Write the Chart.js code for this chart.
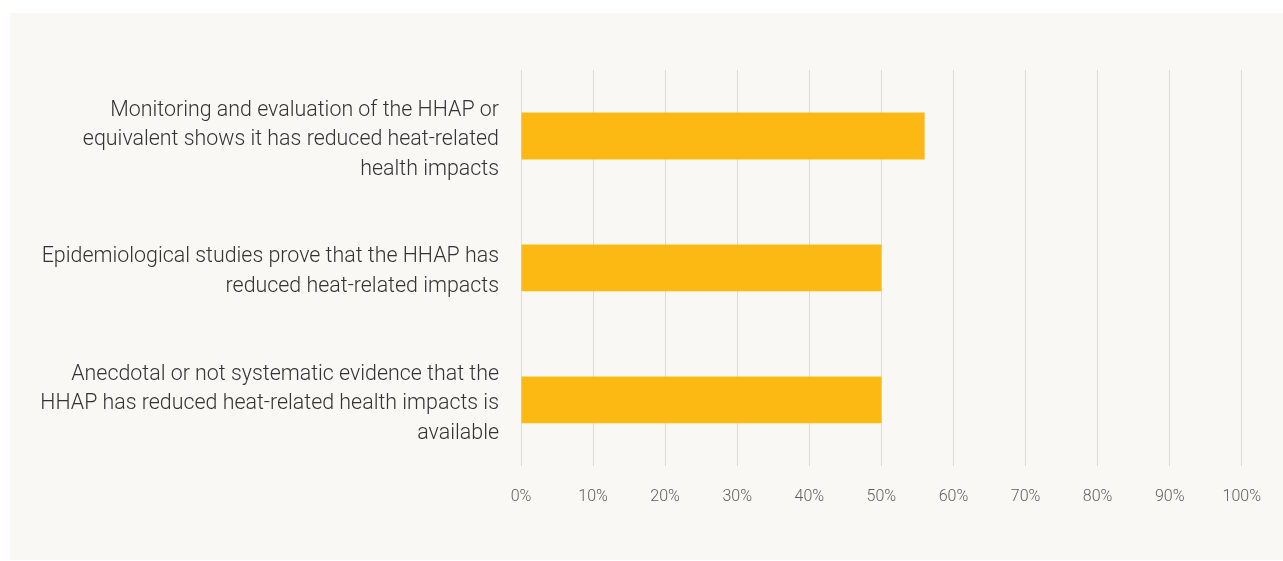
<!DOCTYPE html>
<html>
<head>
<meta charset="utf-8">
<script src="https://cdn.jsdelivr.net/npm/chart.js@4"></script>
<style>
  html, body { margin: 0; padding: 0; background: #ffffff; }
  #panel {
    position: absolute; left: 10px; top: 13px;
    width: 1273px; height: 547px; background: #f9f8f4;
  }
  #chart { display: block; }
</style>
</head>
<body>
<div id="panel"><canvas id="chart" width="1273" height="547"></canvas></div>
<script>
  // Survey answers (labels split into lines as in the figure)
  var categories = [
    ['Monitoring and evaluation of the HHAP or', 'equivalent shows it has reduced heat-related', 'health impacts'],
    ['Epidemiological studies prove that the HHAP has', 'reduced heat-related impacts'],
    ['Anecdotal or not systematic evidence that the', 'HHAP has reduced heat-related health impacts is', 'available']
  ];
  var shares = [56, 50, 50];
  var xTicks = [0, 10, 20, 30, 40, 50, 60, 70, 80, 90, 100];

  var chart = new Chart(document.getElementById('chart'), {
    type: 'bar',
    data: {
      labels: categories,
      datasets: [{
        label: 'Share',
        data: shares,
        backgroundColor: '#fcb913',
        barPercentage: 0.355,
        categoryPercentage: 1
      }]
    },
    options: {
      indexAxis: 'y',
      responsive: false,
      animation: false,
      layout: { padding: { top: 57, bottom: 31, right: 40, left: 0 } },
      plugins: { legend: { display: false }, tooltip: { enabled: false } },
      scales: {
        x: {
          min: 0,
          max: 100,
          afterBuildTicks: function(scale) {
            scale.ticks = xTicks.map(function(v) { return { value: v }; });
          },
          border: { display: false },
          grid: { color: '#dcdbd7', lineWidth: 1, drawTicks: false },
          ticks: {
            padding: 22,
            color: '#5e5e5e',
            font: { family: 'Roboto', size: 16, weight: 300 },
            callback: function(v) { return v + '%'; }
          }
        },
        y: {
          // fixed axis width so the plot starts where the reference does
          afterFit: function(scale) {
            scale.width = 511;
            scale.paddingTop = 0;
            scale.paddingBottom = 0;
          },
          border: { display: false },
          grid: { display: false, drawTicks: false },
          ticks: {
            padding: 22,
            labelOffset: 4,
            color: '#333333',
            font: { family: 'Roboto', size: 21.4, weight: 300, lineHeight: 1.38 }
          }
        }
      }
    }
  });
</script>
</body>
</html>
